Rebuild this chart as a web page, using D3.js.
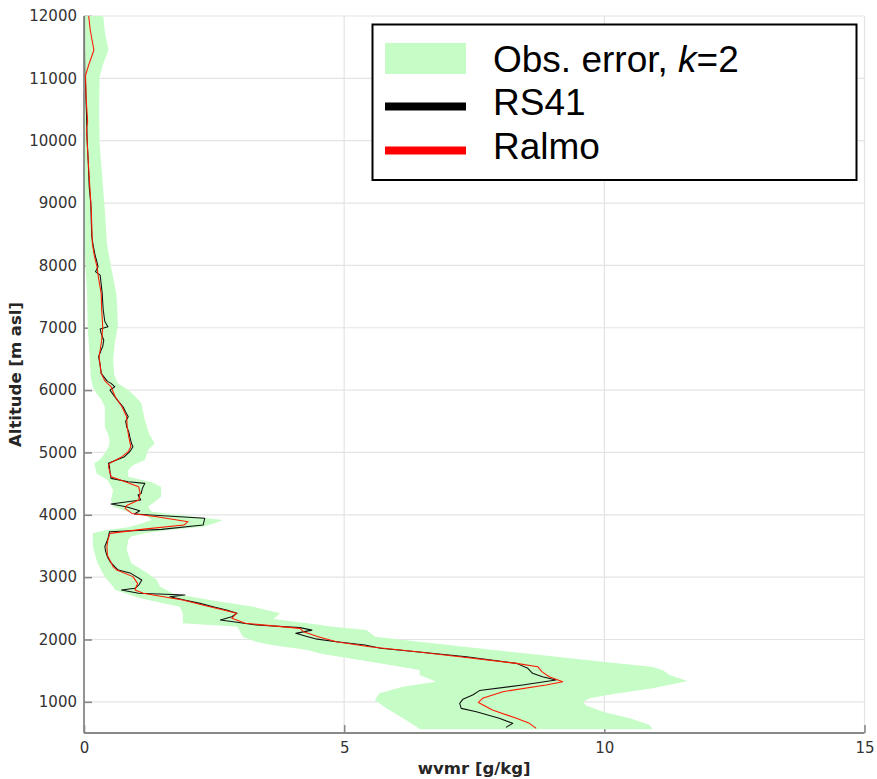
<!DOCTYPE html>
<html>
<head>
<meta charset="utf-8">
<script src="https://cdn.jsdelivr.net/npm/d3@7"></script>
<style>
  html, body { margin: 0; padding: 0; background: #fff; }
  svg { display: block; }
</style>
</head>
<body>
<div id="chart"></div>
<script>
// Water vapour mixing ratio profiles: radiosonde vs Raman lidar, with the
// lidar's expanded observation uncertainty (k = 2) as a shaded band.

// Axis ticks
const altTicks = d3.range(1000, 12001, 1000);
const wvmrTicks = [0, 5, 10, 15];

// RS41 radiosonde profile: [altitude m asl, wvmr g/kg]
const rs41 = [
  [12000,0.01],[11500,0.01],[11030,0.015],[10920,0.03],[10600,0.04],[10385,0.05],
  [10011,0.06],[9690,0.08],[9262,0.10],[8995,0.13],[8700,0.14],[8460,0.15],
  [8300,0.18],[8139,0.22],[8086,0.24],[7979,0.27],[7900,0.22],[7845,0.31],
  [7700,0.33],[7551,0.35],[7400,0.36],[7284,0.37],[7100,0.40],[7017,0.46],
  [6980,0.31],[6910,0.33],[6800,0.38],[6700,0.36],[6642,0.33],[6535,0.28],
  [6400,0.31],[6268,0.33],[6140,0.45],[6108,0.52],[6054,0.59],[6000,0.50],
  [5894,0.59],[5800,0.68],[5733,0.75],[5650,0.80],[5573,0.85],[5500,0.80],
  [5412,0.82],[5330,0.86],[5252,0.88],[5150,0.91],[5092,0.94],[5012,0.88],
  [4932,0.78],[4870,0.60],[4825,0.47],[4771,0.49],[4680,0.50],[4584,0.52],
  [4531,0.85],[4504,1.17],[4420,1.12],[4343,1.10],[4317,1.04],[4237,1.09],
  [4172,0.52],[4130,0.81],[4065,1.07],[4012,0.97],[3943,2.32],[3836,2.29],
  [3766,1.49],[3729,0.49],[3650,0.47],[3595,0.45],[3488,0.40],[3400,0.42],
  [3328,0.45],[3250,0.50],[3167,0.59],[3114,0.66],[3061,0.90],[2954,1.11],
  [2880,1.06],[2820,0.98],[2793,0.72],[2740,1.05],[2713,1.94],[2686,1.65],
  [2630,1.95],[2579,2.23],[2520,2.50],[2472,2.74],[2419,2.94],[2365,2.84],
  [2312,2.62],[2285,2.87],[2232,3.32],[2190,4.15],[2150,4.38],[2098,4.07],
  [2044,4.30],[2010,4.45],[1964,4.85],[1911,5.40],[1858,5.70],[1804,6.39],
  [1724,7.35],[1617,8.31],[1537,8.53],[1457,8.62],[1403,8.81],[1350,9.07],
  [1270,8.43],[1180,7.60],[1109,7.47],[1040,7.28],[975,7.22],[895,7.25],
  [842,7.54],[735,7.98],[655,8.24],[590,8.11]
];

// Ralmo lidar profile: [altitude m asl, wvmr g/kg]
const ralmo = [
  [12000,0.09],[11775,0.12],[11454,0.19],[11214,0.09],[11050,0.03],[10700,0.04],
  [10300,0.07],[10200,0.05],[10000,0.06],[9690,0.08],[9422,0.10],[8888,0.14],
  [8353,0.16],[8150,0.20],[7979,0.25],[7845,0.27],[7551,0.33],[7284,0.34],
  [7017,0.36],[6800,0.34],[6535,0.29],[6268,0.33],[6150,0.40],[6108,0.45],
  [6054,0.52],[5894,0.60],[5733,0.73],[5573,0.82],[5412,0.83],[5252,0.86],
  [5092,0.90],[5012,0.85],[4932,0.73],[4825,0.49],[4771,0.47],[4611,0.52],
  [4557,0.70],[4450,1.05],[4343,1.08],[4236,1.05],[4150,0.82],[4102,0.79],
  [4022,0.92],[3970,1.40],[3889,2.00],[3835,1.92],[3770,1.15],[3702,0.50],
  [3600,0.46],[3488,0.44],[3350,0.45],[3167,0.56],[3114,0.63],[3008,0.94],
  [2900,1.03],[2793,0.98],[2740,1.14],[2713,1.33],[2633,1.90],[2550,2.30],
  [2472,2.68],[2419,2.93],[2339,2.84],[2259,3.10],[2178,4.15],[2125,4.22],
  [2044,4.50],[1964,4.85],[1884,5.49],[1804,6.39],[1724,7.22],[1617,8.31],
  [1564,8.72],[1484,8.80],[1403,8.94],[1323,9.20],[1270,8.88],[1163,8.05],
  [1056,7.66],[990,7.58],[869,7.85],[735,8.31],[655,8.56],[575,8.69]
];

// Upper bound of the k=2 observation-error band: [altitude, wvmr]
const errUpper = [
  [12000,0.37],[11750,0.40],[11454,0.47],[11214,0.36],[11027,0.30],[10500,0.29],
  [9957,0.30],[9422,0.35],[8888,0.40],[8353,0.44],[8200,0.47],[7979,0.52],
  [7800,0.56],[7551,0.62],[7300,0.64],[7017,0.65],[6750,0.59],[6482,0.56],
  [6250,0.58],[6108,0.65],[6000,0.85],[5900,0.98],[5787,1.10],[5520,1.17],
  [5300,1.25],[5145,1.36],[5039,1.23],[4878,1.17],[4800,0.95],[4718,0.85],
  [4611,0.85],[4520,1.30],[4450,1.48],[4290,1.48],[4200,1.35],[4130,1.23],
  [4050,1.30],[3960,2.20],[3916,2.67],[3860,2.50],[3809,2.29],[3750,1.60],
  [3702,1.17],[3650,0.90],[3595,0.85],[3435,0.82],[3221,0.91],[3060,1.23],
  [2953,1.40],[2850,1.46],[2739,1.71],[2633,2.42],[2526,3.25],[2419,3.77],
  [2330,3.64],[2260,4.30],[2205,4.79],[2152,5.43],[2070,5.55],[2044,5.60],
  [1964,6.44],[1852,7.66],[1760,8.68],[1644,9.97],[1564,10.90],[1510,11.12],
  [1430,11.25],[1334,11.60],[1280,11.30],[1216,10.93],[1130,10.20],[1056,9.72],
  [1002,9.59],[940,9.65],[842,9.97],[735,10.49],[628,10.87],[560,10.93]
];

// Lower bound of the k=2 observation-error band: [altitude, wvmr]
const errLower = [
  [12000,0],[8300,0],[8086,0.02],[7551,0.06],[7017,0.07],[6535,0.11],
  [6200,0.13],[6054,0.17],[5947,0.24],[5850,0.33],[5733,0.40],[5412,0.40],
  [5300,0.46],[5199,0.49],[5100,0.48],[4985,0.40],[4878,0.30],[4825,0.20],
  [4664,0.24],[4557,0.45],[4397,0.56],[4237,0.52],[4130,0.56],[4049,0.85],
  [3980,1.20],[3916,1.30],[3860,1.10],[3800,0.85],[3750,0.40],[3702,0.17],
  [3488,0.17],[3221,0.26],[3007,0.40],[2846,0.56],[2793,0.60],[2660,1.08],
  [2526,1.84],[2418,1.90],[2259,1.90],[2205,2.95],[2044,3.05],[1964,3.30],
  [1911,3.60],[1831,4.30],[1777,4.53],[1617,5.68],[1510,6.45],[1430,6.45],
  [1323,6.77],[1243,6.13],[1136,5.68],[1029,5.59],[895,5.81],[735,6.13],
  [602,6.39],[560,6.45]
];

const legendItems = [
  { kind: "band", label: ["Obs. error, ", "k", "=2"] },
  { kind: "line", color: "#000000", label: ["RS41"] },
  { kind: "line", color: "#ff0000", label: ["Ralmo"] }
];

const W = 877, H = 779;
const plot = { left: 84, right: 864.5, top: 16, bottom: 733 };
const bandColor = "#c6fcc6";
const axisColor = "#888888";
const textColor = "#333333";

const x = d3.scaleLinear().domain([0, 15]).range([plot.left, plot.right]);
const y = d3.scaleLinear().domain([500, 12000]).range([plot.bottom, plot.top]);

const svg = d3.select("#chart").append("svg")
  .attr("width", W).attr("height", H)
  .style("font-family", "'DejaVu Sans', sans-serif");

svg.append("rect").attr("width", W).attr("height", H).attr("fill", "#fff");

svg.append("defs").append("clipPath").attr("id", "plotClip")
  .append("rect")
  .attr("x", plot.left).attr("y", plot.top)
  .attr("width", plot.right - plot.left).attr("height", plot.bottom - plot.top);

// Grid
const grid = svg.append("g").attr("class", "grid");
grid.selectAll("line.h").data(altTicks).join("line")
  .attr("class", "h")
  .attr("x1", plot.left).attr("x2", plot.right)
  .attr("y1", d => y(d)).attr("y2", d => y(d))
  .attr("stroke", "#e4e4e4").attr("stroke-width", 1.2);
grid.selectAll("line.v").data(wvmrTicks.filter(d => d > 0)).join("line")
  .attr("class", "v")
  .attr("x1", d => x(d)).attr("x2", d => x(d))
  .attr("y1", plot.top).attr("y2", plot.bottom)
  .attr("stroke", "#e4e4e4").attr("stroke-width", 1.2);

// Axes with inward ticks
const yAxis = svg.append("g")
  .attr("transform", `translate(${plot.left},0)`)
  .call(d3.axisLeft(y).tickValues(altTicks).tickSize(-8).tickPadding(7).tickFormat(d3.format("d")));
const xAxis = svg.append("g")
  .attr("transform", `translate(0,${plot.bottom})`)
  .call(d3.axisBottom(x).tickValues(wvmrTicks).tickSize(-8).tickPadding(9).tickFormat(d3.format("d")));

[yAxis, xAxis].forEach(g => {
  g.select(".domain").remove();
  g.selectAll(".tick line").attr("stroke", axisColor).attr("stroke-width", 1.6);
  g.selectAll(".tick text")
    .attr("fill", textColor)
    .style("font-size", "15px")
    .style("font-family", "'DejaVu Sans', sans-serif");
});

// Observation error band
const pt = d3.line().x(d => x(d[1])).y(d => y(d[0]));
const bandPts = errUpper.concat(errLower.slice().reverse());
svg.append("path")
  .attr("clip-path", "url(#plotClip)")
  .attr("d", pt(bandPts) + "Z")
  .attr("fill", bandColor)
  .attr("stroke", "none");

// Profiles
const profileLine = d3.line().x(d => x(d[1])).y(d => y(d[0]));
svg.append("path")
  .attr("d", profileLine(rs41))
  .attr("fill", "none")
  .attr("stroke", "#111111")
  .attr("stroke-width", 1.05)
  .attr("stroke-linejoin", "round");
svg.append("path")
  .attr("d", profileLine(ralmo))
  .attr("fill", "none")
  .attr("stroke", "#ff1a00")
  .attr("stroke-width", 1.05)
  .attr("stroke-linejoin", "round");

// Axis lines on top
svg.append("line")
  .attr("x1", plot.left).attr("x2", plot.left)
  .attr("y1", plot.top).attr("y2", plot.bottom)
  .attr("stroke", axisColor).attr("stroke-width", 1.8);
svg.append("line")
  .attr("x1", plot.left).attr("x2", plot.right)
  .attr("y1", plot.bottom).attr("y2", plot.bottom)
  .attr("stroke", axisColor).attr("stroke-width", 1.8);

// Axis titles
svg.append("text")
  .attr("x", (plot.left + plot.right) / 2)
  .attr("y", 774)
  .attr("text-anchor", "middle")
  .attr("fill", "#262626")
  .style("font-size", "16.5px")
  .style("font-weight", "bold")
  .text("wvmr [g/kg]");
svg.append("text")
  .attr("transform", `translate(21,${(plot.top + plot.bottom) / 2}) rotate(-90)`)
  .attr("text-anchor", "middle")
  .attr("fill", "#262626")
  .style("font-size", "16.5px")
  .style("font-weight", "bold")
  .text("Altitude [m asl]");

// Legend
const leg = svg.append("g").attr("class", "legend");
leg.append("rect")
  .attr("x", 372.5).attr("y", 24.5)
  .attr("width", 484).attr("height", 155.5)
  .attr("fill", "#fff")
  .attr("stroke", "#000").attr("stroke-width", 2);

const rowBase = [72, 115, 159];
legendItems.forEach((item, i) => {
  const base = rowBase[i];
  if (item.kind === "band") {
    leg.append("rect")
      .attr("x", 385).attr("y", base - 29)
      .attr("width", 81).attr("height", 31)
      .attr("fill", bandColor);
  } else {
    leg.append("line")
      .attr("x1", 385).attr("x2", 466)
      .attr("y1", base - 8.5).attr("y2", base - 8.5)
      .attr("stroke", item.color).attr("stroke-width", 8);
  }
  const t = leg.append("text")
    .attr("x", 493).attr("y", base)
    .attr("fill", "#000")
    .style("font-family", "'Liberation Sans', Arial, sans-serif")
    .style("font-size", "37px");
  item.label.forEach((part, j) => {
    const span = t.append("tspan").text(part);
    if (item.kind === "band" && j === 1) span.style("font-style", "italic");
  });
});
</script>
</body>
</html>
